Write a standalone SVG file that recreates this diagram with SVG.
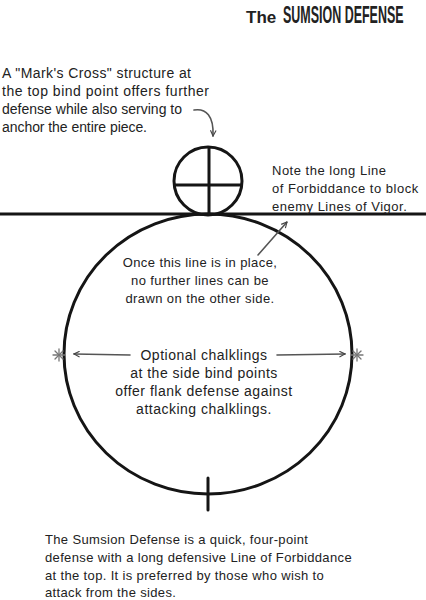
<svg xmlns="http://www.w3.org/2000/svg" width="426" height="600" viewBox="0 0 426 600">
<style>
.t{font-family:"Liberation Sans","DejaVu Sans",sans-serif;font-size:13px;fill:#222;}
.c{text-anchor:middle;}
.ln{fill:none;stroke:#151515;stroke-width:3;stroke-linecap:round;}
.ar{fill:none;stroke:#555;stroke-width:1.6;stroke-linecap:round;stroke-linejoin:round;}
.st{stroke:#777;stroke-width:1.3;stroke-linecap:round;}
</style>
<defs>
<marker id="ah" viewBox="0 0 10 10" refX="9" refY="5" markerWidth="7" markerHeight="7" orient="auto" markerUnits="userSpaceOnUse">
<path d="M1,1 L9,5 L1,9" fill="none" stroke="#444" stroke-width="1.6"/>
</marker>
</defs>
<rect width="426" height="600" fill="#fff"/>
<g id="title" font-family="Liberation Sans, DejaVu Sans, sans-serif" font-weight="bold" fill="#222">
<text x="246" y="23" font-size="17">The</text>
<text transform="translate(283,23) scale(0.52,1)" x="0" y="0" font-size="24">SUMSION DEFENSE</text>
</g>
<g id="baseline-line">
<line class="ln" x1="0" y1="214" x2="426" y2="214"/>
</g>
<g id="big-circle">
<ellipse class="ln" cx="208" cy="354" rx="144" ry="140"/>
<line class="ln" x1="208" y1="478" x2="208" y2="510" stroke-width="2.5"/>
</g>
<g id="marks-cross">
<circle class="ln" cx="208" cy="181" r="34"/>
<line class="ln" x1="209" y1="148" x2="209" y2="214" stroke-width="2.5"/>
<line class="ln" x1="175" y1="185" x2="241" y2="185" stroke-width="2.5"/>
</g>
<g id="left-chalkling">
<line class="st" x1="53" y1="355" x2="65" y2="355"/>
<line class="st" x1="59" y1="349" x2="59" y2="361"/>
<line class="st" x1="55" y1="351" x2="63" y2="359"/>
<line class="st" x1="55" y1="359" x2="63" y2="351"/>
</g>
<g id="right-chalkling">
<line class="st" x1="351" y1="355" x2="363" y2="355"/>
<line class="st" x1="357" y1="349" x2="357" y2="361"/>
<line class="st" x1="353" y1="351" x2="361" y2="359"/>
<line class="st" x1="353" y1="359" x2="361" y2="351"/>
</g>
<g id="connectors">
<path class="ar" d="M194,110 C206,108 214,116 213,136" marker-end="url(#ah)"/>
<path class="ar" d="M258,255 L287,222" marker-end="url(#ah)"/>
<path class="ar" d="M130,355 L74,354" marker-end="url(#ah)"/>
<path class="ar" d="M277,355 L345,354" marker-end="url(#ah)"/>
</g>
<g id="note-marks-cross">
<text class="t" x="2" y="78" style="font-size:14px" textLength="189">A "Mark's Cross" structure at</text>
<text class="t" x="2" y="96" style="font-size:14px" textLength="207">the top bind point offers further</text>
<text class="t" x="2" y="114" style="font-size:14px" textLength="180">defense while also serving to</text>
<text class="t" x="2" y="132" style="font-size:14px" textLength="145">anchor the entire piece.</text>
</g>
<g id="note-forbiddance" letter-spacing="0.5">
<text class="t" x="272" y="175">Note the long Line</text>
<text class="t" x="272" y="193">of Forbiddance to block</text>
<text class="t" x="272" y="211">enemy Lines of Vigor.</text>
</g>
<g id="note-once" letter-spacing="0.4">
<text class="t c" x="200" y="267">Once this line is in place,</text>
<text class="t c" x="200" y="285">no further lines can be</text>
<text class="t c" x="200" y="303">drawn on the other side.</text>
</g>
<g id="note-optional" letter-spacing="0.5">
<text class="t c" x="204" y="360" style="font-size:14px">Optional chalklings</text>
<text class="t c" x="204" y="378" style="font-size:14px">at the side bind points</text>
<text class="t c" x="204" y="396" style="font-size:14px">offer flank defense against</text>
<text class="t c" x="204" y="414" style="font-size:14px">attacking chalklings.</text>
</g>
<g id="summary" letter-spacing="0.35">
<text class="t" x="45" y="544">The Sumsion Defense is a quick, four-point</text>
<text class="t" x="45" y="562">defense with a long defensive Line of Forbiddance</text>
<text class="t" x="45" y="580">at the top. It is preferred by those who wish to</text>
<text class="t" x="45" y="597">attack from the sides.</text>
</g>
</svg>
